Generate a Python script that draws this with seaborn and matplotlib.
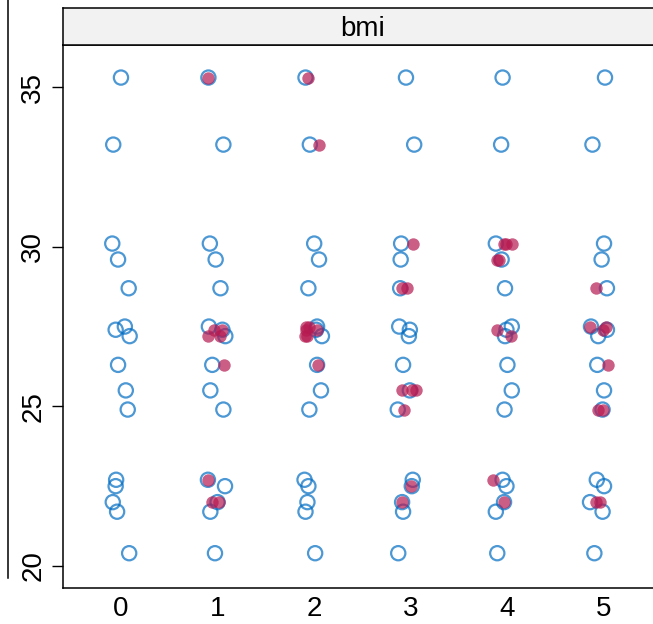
import numpy as np
import pandas as pd
import matplotlib
matplotlib.use("Agg")
import matplotlib.pyplot as plt
import seaborn as sns
from matplotlib.lines import Line2D

# observed bmi values (nhanes), same in every column
bmi_obs = [35.3, 33.2, 30.1, 29.6, 28.7, 27.5, 27.4, 27.2, 26.3, 25.5, 24.9,
           22.7, 22.5, 22.0, 21.7, 20.4]

jit_obs = [
    [0.00, -0.08, -0.09, -0.03, 0.08, 0.04, -0.055, 0.09, -0.03, 0.05, 0.07, -0.05, -0.055, -0.085, -0.04, 0.085],
    [-0.095, 0.06, -0.08, -0.02, 0.03, -0.09, 0.05, 0.08, -0.055, -0.075, 0.06, -0.10, 0.077, 0.00, -0.075, -0.027],
    [-0.09, -0.045, 0.00, 0.05, -0.06, 0.03, 0.02, 0.08, 0.03, 0.07, -0.05, -0.10, -0.06, -0.07, -0.09, 0.01],
    [-0.05, 0.035, -0.10, -0.105, -0.11, -0.12, -0.01, -0.02, -0.08, -0.01, -0.135, 0.02, 0.01, -0.09, -0.08, -0.13],
    [-0.05, -0.065, -0.12, -0.06, -0.025, 0.045, -0.01, -0.025, 0.00, 0.045, -0.03, -0.05, -0.01, -0.035, -0.12, -0.105],
    [0.01, -0.12, 0.00, -0.025, 0.03, -0.135, 0.03, -0.06, -0.07, 0.00, -0.015, -0.075, 0.00, -0.145, -0.015, -0.10],
]

# imputed bmi values for imputations 1..5
bmi_imp = {
    1: [35.3, 27.4, 27.4, 27.2, 27.2, 26.3, 22.7, 22.0, 22.0],
    2: [35.3, 33.2, 27.5, 27.4, 27.2, 27.4, 26.3, 27.2, 27.5],
    3: [30.1, 28.7, 28.7, 25.5, 25.5, 25.5, 24.9, 22.5, 22.0],
    4: [30.1, 30.1, 30.1, 29.6, 29.6, 27.4, 27.2, 22.7, 22.0],
    5: [28.7, 27.5, 27.5, 27.4, 26.3, 24.9, 24.9, 22.0, 22.0],
}
jit_imp = {
    1: [-0.10, -0.035, 0.05, -0.096, 0.02, 0.07, -0.096, -0.06, 0.01],
    2: [-0.06, 0.05, -0.08, -0.085, -0.07, 0.025, 0.035, -0.09, -0.05],
    3: [0.026, -0.095, -0.035, -0.09, 0.01, 0.05, -0.07, 0.00, -0.09],
    4: [-0.035, -0.015, 0.045, -0.11, -0.085, -0.11, 0.035, -0.145, -0.04],
    5: [-0.085, -0.15, 0.02, -0.01, 0.045, -0.06, -0.01, -0.08, -0.04],
}

imps = [0, 1, 2, 3, 4, 5]

obs_rows = []
for k in imps:
    for v, j in zip(bmi_obs, jit_obs[k]):
        obs_rows.append({"imp": k + j, "bmi": v})
df_obs = pd.DataFrame(obs_rows)

imp_rows = []
for k in imps[1:]:
    for v, j in zip(bmi_imp[k], jit_imp[k]):
        imp_rows.append({"imp": k + j, "bmi": v})
df_imp = pd.DataFrame(imp_rows)

blue = (0 / 255, 108 / 255, 194 / 255, 0.7)
red = (182 / 255, 26 / 255, 81 / 255, 0.7)

plt.rcParams["font.family"] = ["Liberation Sans", "DejaVu Sans"]

W, H = 653, 624
fig = plt.figure(figsize=(W / 100, H / 100), dpi=100)
ax = fig.add_axes([63 / W, 1 - 588 / H, (662 - 63) / W, (588 - 45) / H])

sns.scatterplot(data=df_obs, x="imp", y="bmi", ax=ax, s=105, color=blue,
                marker="o", legend=False)
coll = ax.collections[-1]
coll.set_facecolor("none")
coll.set_edgecolor(blue)
coll.set_linewidth(1.6)

sns.scatterplot(data=df_imp, x="imp", y="bmi", ax=ax, s=80, color=red,
                marker="o", linewidth=0, legend=False)

ax.set_xlim(-0.6, 5.6)
ax.set_ylim(19.31, 36.32)
ax.set_xticks(imps)
ax.set_xticklabels([str(i) for i in imps])
ax.set_yticks([20, 25, 30, 35])
ax.set_xlabel("")
ax.set_ylabel("")
ax.tick_params(axis="x", length=0, pad=6, labelsize=20)
ax.tick_params(axis="y", length=8, width=1.0, pad=4, labelsize=20)
for lab in ax.get_yticklabels():
    lab.set_rotation(90)
    lab.set_va("center")
for sp in ax.spines.values():
    sp.set_linewidth(1.1)
    sp.set_color("black")

# strip on top
sax = fig.add_axes([63 / W, 1 - 45 / H, (662 - 63) / W, (45 - 8) / H])
sax.set_facecolor("#F2F2F2")
sax.set_xticks([])
sax.set_yticks([])
for sp in sax.spines.values():
    sp.set_linewidth(1.1)
sax.text(0.5, 0.42, "bmi", ha="center", va="center", fontsize=20,
         transform=sax.transAxes)

# border line of a neighbouring panel at the far left
fig.add_artist(Line2D([8 / W, 8 / W], [1.0, 1 - 578 / H], color="black",
                      linewidth=1.1, transform=fig.transFigure))

fig.savefig("out.png", dpi=100)
